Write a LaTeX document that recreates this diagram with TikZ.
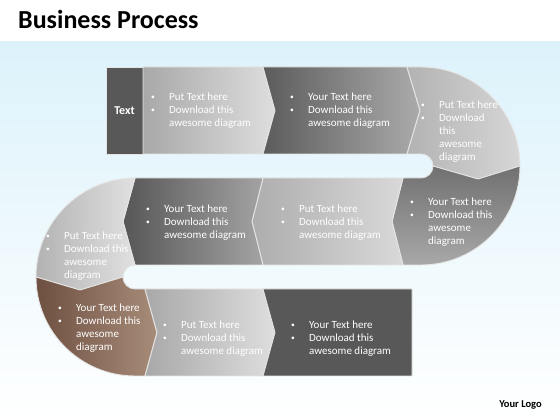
\documentclass[tikz,border=0pt]{standalone}
\usepackage{fontspec}
\setmainfont{Carlito}
\definecolor{bgblue}{HTML}{DCF2FB}
\definecolor{dk}{HTML}{585858}
\definecolor{brownA}{HTML}{6E5040}
\definecolor{brownB}{HTML}{A88C7A}
\newcommand{\bitem}{\makebox[18pt][l]{\raisebox{0.6pt}{\fontsize{7.5}{7.5}\selectfont\textbullet}}}
\newcommand{\bnone}{\hspace*{18pt}}
\begin{document}
\begin{tikzpicture}[x=1pt,y=1pt,
  seg/.style={draw=white!90!black, line width=0.9pt, line join=round},
  txt/.style={anchor=base west, inner sep=0pt, text=white, font=\fontsize{11}{13}\selectfont},
]
\useasboundingbox (0,0) rectangle (560,420);
\fill[white] (0,0) rectangle (560,420);
\shade[top color=bgblue, bottom color=white] (0,0) rectangle (560,378);

% row 1
\fill[dk] (106,266) rectangle (143,353);
\draw[white!90!black, line width=0.9pt] (106,266) rectangle (143,353);
\shadedraw[seg, left color=black!34, right color=black!13]
  (143,353) -- (263,353) -- (275,309.5) -- (263,266) -- (143,266) -- cycle;
\shadedraw[seg, left color=black!64, right color=black!33]
  (263,353) -- (407,353) -- (420,309.5) -- (407,266) -- (263,266) -- (275,309.5) -- cycle;
% right curve
\shadedraw[seg, shading angle=60, left color=black!30, right color=black!16]
  (407,353) -- (421,353) arc[start angle=90, end angle=0, radius=99]
  -- (478,241) -- (433,254) arc[start angle=0, end angle=90, radius=12]
  -- (407,266) -- (420,309.5) -- cycle;
\shadedraw[seg, top color=black!56, bottom color=black!34]
  (403,242) -- (421,242) arc[start angle=-90, end angle=0, radius=12]
  -- (478,241) -- (520,254) arc[start angle=0, end angle=-90, radius=99]
  -- (403,155) -- (392,198.5) -- cycle;
% row 2
\shadedraw[seg, left color=black!32, right color=black!15]
  (403,242) -- (263,242) -- (252,198.5) -- (263,155) -- (403,155) -- (392,198.5) -- cycle;
\shadedraw[seg, left color=black!66, right color=black!36]
  (263,242) -- (135,242) -- (123,198.5) -- (135,155) -- (263,155) -- (252,198.5) -- cycle;
% left curve
\shadedraw[seg, shading angle=-60, left color=black!30, right color=black!12]
  (135,242) arc[start angle=90, end angle=180, radius=99]
  -- (80,130) -- (123,143) arc[start angle=180, end angle=90, radius=12]
  -- (123,198.5) -- cycle;
\shadedraw[seg, left color=brownA, right color=brownB]
  (123,143) -- (80,130) -- (36,143) arc[start angle=180, end angle=270, radius=99]
  -- (145,44) -- (157,87.5) -- (145,131) -- (135,131)
  arc[start angle=270, end angle=180, radius=12] -- cycle;
% row 3
\shadedraw[seg, left color=black!34, right color=black!13]
  (145,131) -- (263,131) -- (275,87.5) -- (263,44) -- (145,44) -- (157,87.5) -- cycle;
\filldraw[seg, fill=dk]
  (263,131) -- (412,131) -- (412,44) -- (263,44) -- (275,87.5) -- cycle;

% texts
\node[anchor=base west, inner sep=0pt, font=\fontsize{26}{30}\selectfont\bfseries] (title) at (18,391) {Business Process};
\node[text=white, font=\fontsize{12}{14}\selectfont\bfseries] (tbox) at (124.5,309.5) {Text};
\node[font=\fontsize{10.5}{12}\selectfont\bfseries] (logo) at (520.5,15) {Your Logo};

\node[txt] (t1) at (151,319.5) {\begin{tabular}[t]{@{}l@{}}\bitem Put Text here\\ \bitem Download this\\ \bnone awesome diagram\end{tabular}};
\node[txt] (t2) at (290,319.5) {\begin{tabular}[t]{@{}l@{}}\bitem Your Text here\\ \bitem Download this\\ \bnone awesome diagram\end{tabular}};
\node[txt] (t3) at (421,311.5) {\begin{tabular}[t]{@{}l@{}}\bitem Put Text here\\ \bitem Download\\ \bnone this\\ \bnone awesome\\ \bnone diagram\end{tabular}};
\node[txt] (t4) at (410,214.5) {\begin{tabular}[t]{@{}l@{}}\bitem Your Text here\\ \bitem Download this\\ \bnone awesome\\ \bnone diagram\end{tabular}};
\node[txt] (t5) at (281,207.5) {\begin{tabular}[t]{@{}l@{}}\bitem Put Text here\\ \bitem Download this\\ \bnone awesome diagram\end{tabular}};
\node[txt] (t6) at (146,207.5) {\begin{tabular}[t]{@{}l@{}}\bitem Your Text here\\ \bitem Download this\\ \bnone awesome diagram\end{tabular}};
\node[txt] (t7) at (46,180.5) {\begin{tabular}[t]{@{}l@{}}\bitem Put Text here\\ \bitem Download this\\ \bnone awesome\\ \bnone diagram\end{tabular}};
\node[txt] (t8) at (58,108.5) {\begin{tabular}[t]{@{}l@{}}\bitem Your Text here\\ \bitem Download this\\ \bnone awesome\\ \bnone diagram\end{tabular}};
\node[txt] (t9) at (163,91.5) {\begin{tabular}[t]{@{}l@{}}\bitem Put Text here\\ \bitem Download this\\ \bnone awesome diagram\end{tabular}};
\node[txt] (t10) at (291,91.5) {\begin{tabular}[t]{@{}l@{}}\bitem Your Text here\\ \bitem Download this\\ \bnone awesome diagram\end{tabular}};
\end{tikzpicture}
\end{document}
